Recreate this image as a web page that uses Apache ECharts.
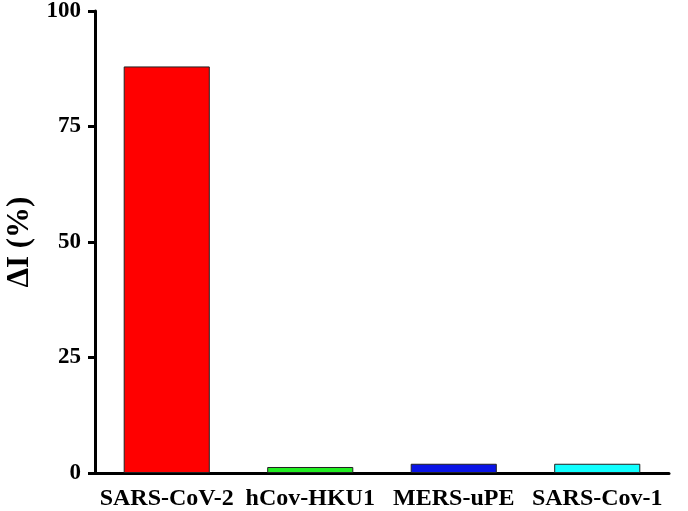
<!DOCTYPE html>
<html>
<head>
<meta charset="utf-8">
<script src="https://cdn.jsdelivr.net/npm/echarts@6/dist/echarts.min.js"></script>
<style>
  html, body { margin: 0; padding: 0; background: #fff; }
  #main { width: 688px; height: 511px; }
</style>
</head>
<body>
<div id="main"></div>
<script>
var categories = ["SARS-CoV-2", "hCov-HKU1", "MERS-uPE", "SARS-Cov-1"];
var values = [88, 1.3, 2, 2];
var barColors = ["#ff0000", "#22ee22", "#0a14e6", "#11ffff"];
var yTicks = [0, 25, 50, 75, 100];

var myChart = echarts.init(document.getElementById("main"));
var font = "Times New Roman, Liberation Serif, serif";

myChart.setOption({
  animation: false,
  grid: {
    left: 95,
    right: 19,
    top: 11,
    bottom: 38,
    containLabel: false,
    outerBoundsMode: "none",
  },
  xAxis: {
    type: "category",
    data: categories,
    axisLine: {
      lineStyle: { color: "#000", width: 3 },
    },
    axisTick: {
      alignWithLabel: true,
      length: 6,
      lineStyle: { color: "#000", width: 3 },
    },
    axisLabel: {
      interval: 0,
      hideOverlap: false,
      color: "#000",
      fontFamily: font,
      fontWeight: "bold",
      fontSize: 24,
      margin: 14,
    },
  },
  yAxis: {
    type: "value",
    min: yTicks[0],
    max: yTicks[yTicks.length - 1],
    interval: 25,
    name: "\u0394I (%)",
    nameLocation: "middle",
    nameGap: 60,
    nameTextStyle: {
      color: "#000",
      fontFamily: font,
      fontWeight: "bold",
      fontSize: 31,
    },
    axisLine: {
      show: true,
      lineStyle: { color: "#000", width: 3 },
    },
    axisTick: {
      show: true,
      length: 7,
      lineStyle: { color: "#000", width: 3 },
    },
    axisLabel: {
      color: "#000",
      fontFamily: font,
      fontWeight: "bold",
      fontSize: 23,
      margin: 14,
    },
    splitLine: { show: false },
  },
  series: [
    {
      type: "bar",
      barWidth: "60%",
      data: values.map(function (v, i) {
        return {
          value: v,
          itemStyle: {
            color: barColors[i],
            borderColor: "#222",
            borderWidth: 1,
          },
        };
      }),
    },
  ],
});
</script>
</body>
</html>
